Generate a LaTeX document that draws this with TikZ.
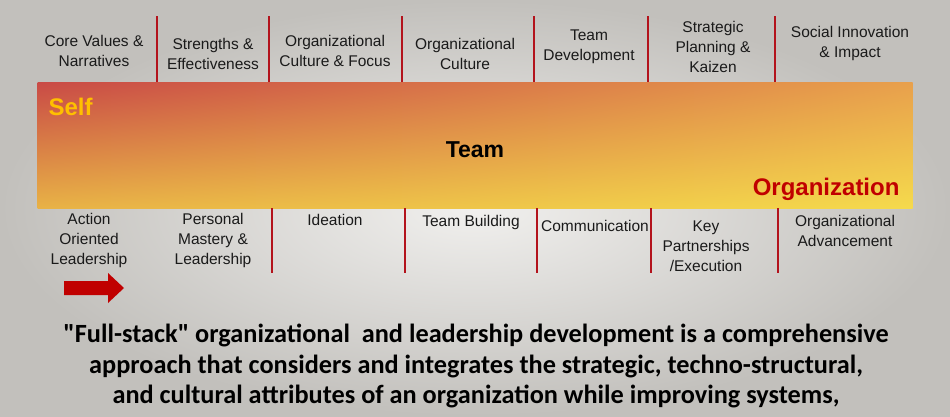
\documentclass[tikz,border=0pt]{standalone}
\usepackage{fontspec}
\setmainfont{Liberation Sans}
\newfontfamily\descfont{Carlito}
\usepackage{xcolor}
\usetikzlibrary{shadings}
\definecolor{sepred}{HTML}{B3131C}
\definecolor{orgred}{HTML}{C00000}
\definecolor{selfgold}{HTML}{FFC000}
\definecolor{labgray}{HTML}{1A1A1A}
\definecolor{bgin}{HTML}{F1F0EE}
\definecolor{bgout}{HTML}{C2C0BC}
\definecolor{barul}{HTML}{C94A46}
\definecolor{barur}{HTML}{E8A04C}
\definecolor{barll}{HTML}{E8B246}
\definecolor{barlr}{HTML}{F5DA4C}

\begin{document}
\begin{tikzpicture}[x=1pt,y=-1pt,
  lab/.style={align=center,font=\fontsize{15.5}{20}\selectfont,text=labgray,inner sep=0pt},
  sep/.style={sepred,line width=1.8pt}]

\shade[inner color=bgin,outer color=bgout] (0,0) rectangle (950,416);
\useasboundingbox (0,0) rectangle (950,416);

\node[minimum width=875pt,minimum height=126pt,inner sep=0pt,
  upper left=barul,upper right=barur,lower left=barll,lower right=barlr] (bar) at (475,145) {};

\node[anchor=west,text=selfgold,font=\fontsize{24}{24}\selectfont\bfseries] (self) at (45,107) {Self};
\node[font=\fontsize{23}{23}\selectfont\bfseries] (team) at (475,150) {Team};
\node[anchor=east,text=orgred,font=\fontsize{24}{24}\selectfont\bfseries] (org) at (903,189) {Organization};

\foreach [count=\i] \x/\y/\t in {94/51/{Core Values \&\\Narratives}, 213/54/{Strengths \&\\Effectiveness}, 335/51/{Organizational\\Culture \& Focus}, 465/54/{Organizational\\Culture}, 589/47/{Team\\Development}, 713/47/{Strategic\\Planning \&\\Kaizen}, 850/43/{Social Innovation\\\& Impact}}
\node[lab] (t\i) at (\x,\y) {\t};

\foreach [count=\i] \x/\y/\t in {89/240/{Action\\Oriented\\Leadership}, 213/240/{Personal\\Mastery \&\\Leadership}, 335/220/{Ideation}, 471/222/{Team Building}, 595/226/{Communication}, 706/246/{Key\\Partnerships\\/Execution}, 845/231/{Organizational\\Advancement}}
\node[lab] (b\i) at (\x,\y) {\t};

\foreach \x in {157,269,402,534,648,775}
\draw[sep] (\x,16) -- (\x,82);
\foreach \x in {272,405,537,651,778}
\draw[sep] (\x,208) -- (\x,273);

\fill[orgred] (64,281) -- (108,281) -- (108,273) -- (124,288) -- (108,303) -- (108,295) -- (64,295) -- cycle;

\node[align=center,font=\descfont\bfseries\fontsize{26.3}{30.5}\selectfont,inner sep=0pt] (desc) at (476,366)
  {"Full-stack" organizational\ \ and leadership development is a comprehensive\\
   approach that considers and integrates the strategic, techno-structural,\\
   and cultural attributes of an organization while improving systems,};

\end{tikzpicture}
\end{document}
